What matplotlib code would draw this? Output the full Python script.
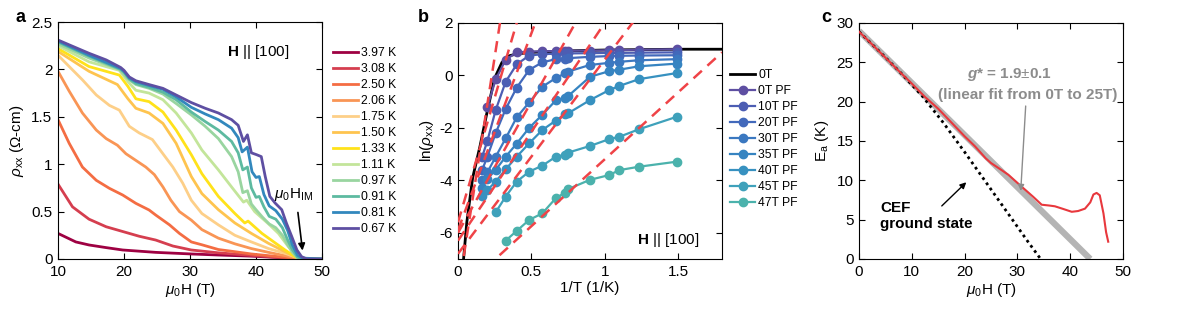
import numpy as np
import matplotlib
matplotlib.use("Agg")
import matplotlib.pyplot as plt
from matplotlib.ticker import FuncFormatter

plt.rcParams['font.family'] = 'Liberation Sans'
plt.rcParams['mathtext.fontset'] = 'custom'
plt.rcParams['mathtext.rm'] = 'Liberation Sans'
plt.rcParams['mathtext.it'] = 'Liberation Sans:italic'
plt.rcParams['mathtext.bf'] = 'Liberation Sans:bold'
plt.rcParams['mathtext.bfit'] = 'Liberation Sans:italic:bold'
plt.rcParams['font.size'] = 11
plt.rcParams['axes.linewidth'] = 0.8

# ---- panel a : rho_xx vs field at several temperatures ----
temps_a = ['3.97 K', '3.08 K', '2.50 K', '2.06 K', '1.75 K', '1.50 K',
           '1.33 K', '1.11 K', '0.97 K', '0.91 K', '0.81 K', '0.67 K']
colors_a = ['#9e0142', '#d53e4f', '#f46d43', '#f99555', '#fdcf88', '#fec44f',
            '#ffe21a', '#c3e59a', '#99d5a0', '#5dbaa0', '#3288bd', '#5e4fa2']
field_a = [
    [10, 12.7, 14.7, 17.3, 19.8, 24.8, 30.2, 34.3, 39.3, 44.4, 46.4, 47, 50],
    [10, 12.2, 14.7, 17.3, 19.8, 22.3, 24.8, 27.4, 30.2, 34.3, 39.3, 44.4, 46.4, 47, 50],
    [10, 11.7, 13.7, 15.8, 17.8, 19.8, 21.8, 23.8, 24.8, 26.9, 28.4, 30.2, 31.8, 34.3,
     36.8, 39.3, 41.9, 44.4, 46.4, 47, 50],
    [10, 11.7, 13.7, 15.8, 17.3, 19.0, 20.3, 21.8, 23.3, 24.6, 25.9, 27.1, 28.4, 30.2,
     31.8, 34.3, 36.8, 39.3, 41.9, 44.4, 46.4, 47, 50],
    [10, 11.7, 13.7, 15.8, 17.8, 19.3, 20.8, 22.3, 24.3, 25.9, 27.4, 28.9, 30.2, 31.8,
     34.3, 36.8, 39.3, 41.9, 44.4, 46.4, 47, 50],
    [10, 14.7, 19.0, 20.6, 21.8, 23.8, 25.9, 27.9, 30.2, 31.8, 34.3, 36.8, 39.3, 41.9,
     43.9, 45.9, 47, 50],
    [10, 14.7, 19.3, 20.6, 21.8, 23.8, 25.9, 27.9, 30.2, 31.8, 34.3, 36.8, 38.3, 38.8,
     40.9, 42.9, 44.4, 45.9, 47, 50],
    [10, 14.7, 19.3, 20.6, 21.8, 23.8, 25.9, 27.9, 30.2, 31.8, 34.3, 36.3, 38.1, 38.6,
     39.8, 41.9, 43.4, 44.9, 46.4, 47.2, 50],
    [10, 14.7, 19.3, 20.6, 21.8, 23.8, 25.9, 27.9, 30.2, 32.3, 34.3, 36.3, 37.3, 38.0,
     38.7, 39.3, 40.0, 41.0, 42.0, 43.0, 44.0, 44.8, 45.5, 46.3, 47.0, 50],
    [10, 14.7, 19.5, 20.0, 20.8, 21.8, 23.8, 25.9, 27.9, 30.2, 32.3, 34.3, 36.3, 37.3,
     38.0, 38.7, 39.3, 40.0, 40.5, 41.2, 42.0, 43.0, 44.0, 44.8, 45.5, 46.3, 47.0, 50],
    [10, 14.7, 19.5, 20.0, 20.8, 21.8, 23.8, 25.9, 27.9, 30.2, 32.3, 34.3, 36.3, 37.3,
     37.9, 38.7, 39.4, 40.0, 40.5, 41.2, 42.0, 43.0, 44.0, 44.8, 45.5, 46.3, 47.0, 50],
    [10, 12, 14.7, 17.3, 19.5, 20.0, 20.8, 21.8, 23.8, 25.9, 27.9, 30.2, 32.3, 34.3,
     36.3, 37.3, 38.1, 38.7, 39.3, 40.1, 40.8, 41.4, 42.1, 42.9, 43.9, 44.6, 45.4,
     46.2, 46.9, 47.7, 50],
]
rho_a = [
    [0.27, 0.18, 0.148, 0.12, 0.095, 0.07, 0.053, 0.042, 0.03, 0.012, 0.002, 0, 0],
    [0.79, 0.55, 0.42, 0.34, 0.29, 0.24, 0.20, 0.137, 0.095, 0.065, 0.038, 0.012, 0.002, 0, 0],
    [1.47, 1.22, 0.97, 0.83, 0.745, 0.675, 0.587, 0.517, 0.464, 0.36, 0.27, 0.18, 0.15, 0.10,
     0.077, 0.053, 0.035, 0.018, 0.003, 0, 0],
    [1.98, 1.77, 1.54, 1.36, 1.27, 1.20, 1.11, 1.04, 0.97, 0.89, 0.76, 0.62, 0.50, 0.41,
     0.31, 0.22, 0.16, 0.11, 0.07, 0.035, 0.007, 0, 0],
    [2.15, 2.03, 1.89, 1.73, 1.62, 1.57, 1.40, 1.33, 1.26, 1.11, 0.97, 0.80, 0.62, 0.48,
     0.36, 0.25, 0.18, 0.11, 0.06, 0.01, 0, 0],
    [2.19, 1.98, 1.84, 1.69, 1.59, 1.54, 1.43, 1.22, 0.87, 0.69, 0.52, 0.38, 0.27, 0.165,
     0.095, 0.025, 0, 0],
    [2.22, 2.03, 1.94, 1.82, 1.69, 1.66, 1.55, 1.36, 1.10, 0.90, 0.66, 0.48, 0.38, 0.40,
     0.27, 0.17, 0.095, 0.025, 0, 0],
    [2.25, 2.08, 1.99, 1.87, 1.78, 1.75, 1.68, 1.54, 1.33, 1.15, 0.94, 0.76, 0.60, 0.62,
     0.50, 0.37, 0.27, 0.13, 0.02, 0, 0],
    [2.27, 2.12, 2.00, 1.90, 1.84, 1.80, 1.74, 1.64, 1.52, 1.40, 1.27, 1.08, 0.92, 0.70,
     0.72, 0.58, 0.52, 0.44, 0.37, 0.33, 0.25, 0.15, 0.07, 0.01, 0, 0],
    [2.29, 2.14, 2.00, 1.97, 1.90, 1.85, 1.81, 1.76, 1.68, 1.55, 1.45, 1.36, 1.24, 1.12,
     0.94, 0.97, 0.75, 0.65, 0.66, 0.55, 0.45, 0.42, 0.33, 0.20, 0.10, 0.02, 0, 0],
    [2.30, 2.15, 2.01, 1.98, 1.91, 1.87, 1.83, 1.79, 1.71, 1.60, 1.53, 1.47, 1.38, 1.28,
     1.13, 1.18, 0.92, 0.86, 0.87, 0.68, 0.56, 0.51, 0.42, 0.30, 0.15, 0.04, 0.01, 0],
    [2.31, 2.25, 2.17, 2.10, 2.02, 1.99, 1.92, 1.88, 1.84, 1.80, 1.73, 1.65, 1.59, 1.54,
     1.47, 1.41, 1.24, 1.31, 1.12, 1.10, 1.08, 0.87, 0.66, 0.59, 0.52, 0.38, 0.24,
     0.095, 0.025, 0.0, 0.0],
]

# ---- panel b : ln(rho) vs 1/T ----
inv_t_0T = [0.03, 0.06, 0.10, 0.15, 0.20, 0.25, 0.30, 0.35, 0.40, 0.5, 0.7, 1.0, 1.5, 1.8]
ln_rho_0T = [-7.5, -5.6, -3.9, -2.7, -1.35, -0.1, 0.5, 0.75, 0.82, 0.88, 0.93, 0.97, 1.0, 1.0]

inv_t = [1.49, 1.235, 1.10, 1.03, 0.90, 0.752, 0.73, 0.667, 0.575, 0.485, 0.40,
         0.325, 0.257, 0.20, 0.165]
pf_labels = ['0T PF', '10T PF', '20T PF', '30T PF', '35T PF', '40T PF', '45T PF', '47T PF']
pf_colors = ['#5e4fa2', '#4c5db3', '#4269bb', '#3b78c0', '#3684c1', '#3791c0',
             '#3fa1bb', '#4bb2ac']
ln_rho_pf = [
    [1.00, 0.98, 0.97, 0.96, 0.95, 0.94, 0.93, 0.93, 0.92, 0.91, 0.88, 0.60, -0.15, -1.2],
    [0.88, 0.87, 0.86, 0.86, 0.85, 0.84, 0.84, 0.83, 0.81, 0.76, 0.42, -0.24, -1.32, -2.5, -3.1],
    [0.77, 0.76, 0.75, 0.74, 0.71, 0.66, 0.64, 0.62, 0.50, 0.21, -0.47, -1.28, -2.2, -3.1, -3.6],
    [0.62, 0.58, 0.52, 0.48, 0.40, 0.15, 0.08, -0.10, -0.43, -1.03, -1.6, -2.4, -3.1, -3.7, -4.0],
    [0.45, 0.35, 0.22, 0.16, -0.05, -0.78, -0.85, -0.95, -1.5, -2.0, -2.6, -3.1, -3.6, -3.95, -4.3],
    [0.09, -0.14, -0.40, -0.56, -0.94, -1.44, -1.48, -1.72, -2.08, -2.59, -3.10, -3.58, -4.05,
     -4.37, -4.6],
    [-1.58, -2.05, -2.34, -2.43, -2.69, -2.94, -3.03, -3.10, -3.44, -3.67, -4.05, -4.62, -5.22],
    [-3.29, -3.48, -3.61, -3.80, -3.98, -4.33, -4.47, -4.68, -5.26, -5.51, -5.93, -6.30],
]
# Arrhenius fit lines: intercept and slope
fit_intercept = [-8.3, -5.6, -5.9, -6.0, -6.3, -6.8, -8.3]
fit_slope = [36, 19, 15, 10, 8.3, 7.4, 5.1]

# ---- panel c : activation energy vs field ----
h_ea = [0, 2, 5, 8, 10, 12.5, 15, 18, 20, 22, 24, 25, 27, 28.3, 30.8, 33, 34.6, 36,
        37.1, 38.5, 40.3, 41.5, 42.8, 43.8, 44.4, 45, 45.6, 46.3, 46.8, 47.2]
ea = [28.9, 27.6, 25.6, 23.6, 22.3, 20.6, 19.1, 17.0, 15.6, 14.3, 12.8, 12.2, 11.3, 10.7,
      9.2, 7.9, 6.9, 6.8, 6.7, 6.4, 6.0, 6.1, 6.4, 7.2, 8.2, 8.4, 8.1, 5.8, 3.4, 2.2]
h_fit = [0, 43.8]
ea_fit = [29.0, 0.0]
h_cef = [0, 4, 8, 12, 16, 20, 24, 28, 32, 34.4]
ea_cef = [28.9, 26.3, 23.6, 20.7, 17.3, 13.6, 9.8, 6.0, 2.2, 0.0]

W, H = 1196, 309
fig = plt.figure(figsize=(W / 100, H / 100), dpi=100)


def px_axes(x0, x1, y0, y1):
    return fig.add_axes([x0 / W, 1 - y1 / H, (x1 - x0) / W, (y1 - y0) / H])


def style(ax):
    ax.tick_params(direction='in', top=True, right=True, length=4, width=0.8,
                   labelsize=11, pad=4)
    ax.xaxis.set_major_formatter(FuncFormatter(lambda v, p: '{:g}'.format(v)))
    ax.yaxis.set_major_formatter(FuncFormatter(lambda v, p: '{:g}'.format(v)))


axA = px_axes(58, 322, 22, 259)
axB = px_axes(458, 722, 23, 259)
axC = px_axes(859, 1123, 23, 259)

# panel a
for lab, col, hh, rr in zip(temps_a, colors_a, field_a, rho_a):
    axA.plot(hh, rr, color=col, lw=2.0, label=lab, solid_joinstyle='round')
axA.set_xlim(10, 50)
axA.set_ylim(0, 2.5)
axA.set_xticks([10, 20, 30, 40, 50])
axA.set_yticks([0, 0.5, 1, 1.5, 2, 2.5])
style(axA)
axA.set_xlabel(r'$\mu_{\rm 0}$H (T)', labelpad=2)
axA.set_ylabel(r'$\rho_{\rm xx}$ ($\Omega$-cm)', labelpad=4)
axA.text(35.6, 2.18, r'$\mathbf{H}$ || [100]', fontsize=11, va='center')
axA.text(42.8, 0.68, r'$\mu_{\rm 0}$H$_{\rm IM}$', fontsize=11, va='center')
axA.annotate('', xy=(47.1, 0.06), xytext=(46.3, 0.52),
             arrowprops=dict(arrowstyle='-|>', color='black', lw=1.2, mutation_scale=10))
axA.legend(loc='upper left', bbox_to_anchor=(333 / W, 1 - 47 / H),
           bbox_transform=fig.transFigure, frameon=False, fontsize=8.7,
           handlelength=2.1, handletextpad=0.25, labelspacing=0.33,
           borderpad=0, borderaxespad=0)

# panel b
axB.plot(inv_t_0T, ln_rho_0T, color='black', lw=2.0, label='0T', zorder=2)
for lab, col, yy in zip(pf_labels, pf_colors, ln_rho_pf):
    axB.plot(inv_t[:len(yy)], yy, '-o', color=col, lw=1.6, ms=6, label=lab, zorder=3)
xfit = np.array([0.0, 1.8])
for a0, s0 in zip(fit_intercept, fit_slope):
    axB.plot(xfit, a0 + s0 * xfit, color='#ef4347', lw=1.8, ls=(0, (4.5, 3)), zorder=4)
axB.set_xlim(0, 1.8)
axB.set_ylim(-7, 2)
axB.set_xticks([0, 0.5, 1, 1.5])
axB.set_yticks([-6, -4, -2, 0, 2])
style(axB)
axB.set_xlabel('1/T (1/K)', labelpad=2)
axB.set_ylabel(r'ln($\rho_{\rm xx}$)', labelpad=2)
axB.text(1.22, -6.26, r'$\mathbf{H}$ || [100]', fontsize=11, va='center')
axB.legend(loc='upper left', bbox_to_anchor=(730 / W, 1 - 69 / H),
           bbox_transform=fig.transFigure, frameon=False, fontsize=8.7,
           handlelength=2.1, handletextpad=0.25, labelspacing=0.33,
           borderpad=0, borderaxespad=0)

# panel c
axC.plot(h_fit, ea_fit, color='#b4b4b4', lw=4.5, solid_capstyle='butt', zorder=1)
axC.plot(h_cef, ea_cef, color='black', lw=2.0, ls=(0, (1, 1.3)), zorder=2)
axC.plot(h_ea, ea, color='#e8383d', lw=1.5, zorder=3)
axC.set_xlim(0, 50)
axC.set_ylim(0, 30)
axC.set_xticks([0, 10, 20, 30, 40, 50])
axC.set_yticks([0, 5, 10, 15, 20, 25, 30])
style(axC)
axC.set_xlabel(r'$\mu_{\rm 0}$H (T)', labelpad=2)
axC.set_ylabel(r'E$_{\rm a}$ (K)', labelpad=4)
axC.text(28.6, 23.4, r'$\mathbfit{g}$* = 1.9$\pm$0.1', color='#8c8c8c',
         fontsize=11, fontweight='bold', ha='center', va='center')
axC.text(32.0, 20.9, '(linear fit from 0T to 25T)', color='#8c8c8c',
         fontsize=11, fontweight='bold', ha='center', va='center')
axC.annotate('', xy=(30.6, 8.3), xytext=(31.6, 19.8),
             arrowprops=dict(arrowstyle='-|>', color='#8c8c8c', lw=1.0, mutation_scale=9))
axC.text(4.0, 5.5, 'CEF\nground state', fontsize=11, fontweight='bold',
         ha='left', va='center', linespacing=1.2)
axC.annotate('', xy=(20.7, 10.0), xytext=(15.3, 6.5),
             arrowprops=dict(arrowstyle='-|>', color='black', lw=1.0, mutation_scale=9))

fig.text(20.7 / W, 1 - 18 / H, 'a', fontsize=13, fontweight='bold', ha='center', va='center')
fig.text(423 / W, 1 - 18 / H, 'b', fontsize=13, fontweight='bold', ha='center', va='center')
fig.text(826.7 / W, 1 - 18 / H, 'c', fontsize=13, fontweight='bold', ha='center', va='center')

fig.savefig('out.png', dpi=100)
